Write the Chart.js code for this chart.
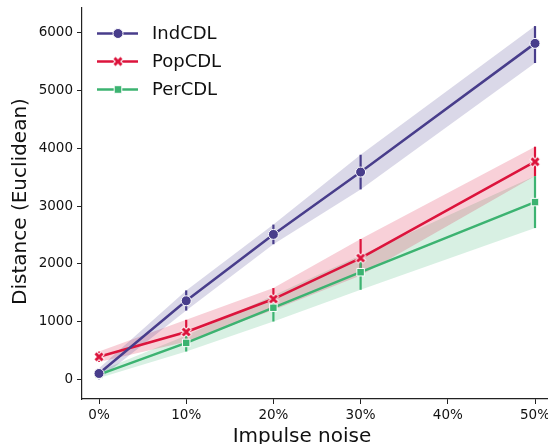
<!DOCTYPE html>
<html>
<head>
<meta charset="utf-8">
<script src="https://cdn.jsdelivr.net/npm/chart.js@4/dist/chart.umd.min.js"></script>
<style>
html,body{margin:0;padding:0;background:#fff;}
#wrap{width:548px;height:444px;position:relative;}
</style>
</head>
<body>
<div id="wrap"><canvas id="c" width="548" height="444"></canvas></div>
<script>
// ---- data ----
const noiseLevels = [0, 10, 20, 30, 50];
const xTicks = [0, 10, 20, 30, 40, 50];
const yTicks = [0, 1000, 2000, 3000, 4000, 5000, 6000];
const seriesNames = ['IndCDL', 'PopCDL', 'PerCDL'];

const indMean  = [100, 1360, 2510, 3590, 5820];
const indLow   = [0, 1190, 2340, 3290, 5480];
const indHigh  = [190, 1540, 2680, 3890, 6120];

const popMean  = [390, 820, 1390, 2100, 3770];
const popLow   = [300, 650, 1200, 1800, 3520];
const popHigh  = [480, 1030, 1580, 2430, 4030];

const perMean  = [80, 630, 1240, 1855, 3070];
const perLow   = [20, 480, 1000, 1550, 2620];
const perHigh  = [140, 760, 1450, 2150, 3520];

const colors = ['#483D8B', '#DC143C', '#3CB371'];
const bandColors = ['rgba(72,61,139,0.2)', 'rgba(220,20,60,0.2)', 'rgba(60,179,113,0.2)'];
const FONT = 'DejaVu Sans';

function pts(arr){ return noiseLevels.map((x,i)=>({x:x, y:arr[i]})); }

function makeX(color){
  const c = document.createElement('canvas');
  c.width = 14; c.height = 14;
  const g = c.getContext('2d');
  g.lineCap = 'butt';
  g.beginPath();
  g.moveTo(3,3); g.lineTo(11,11); g.moveTo(11,3); g.lineTo(3,11);
  g.strokeStyle = '#fff'; g.lineWidth = 5; g.stroke();
  g.beginPath();
  g.moveTo(3.5,3.5); g.lineTo(10.5,10.5); g.moveTo(10.5,3.5); g.lineTo(3.5,10.5);
  g.strokeStyle = color; g.lineWidth = 3; g.stroke();
  return c;
}
const xMarker = makeX(colors[1]);

const means = [indMean, popMean, perMean];
const lows = [indLow, popLow, perLow];
const highs = [indHigh, popHigh, perHigh];
const styles = ['circle', xMarker, 'rect'];
const radii = [5, 7, 5.3];

const datasets = [];
// bands
for (let s=0;s<3;s++){
  datasets.push({label:'hi'+s, data:pts(highs[s]), borderWidth:0, pointRadius:0, fill:false, order:20});
  datasets.push({label:'lo'+s, data:pts(lows[s]), borderWidth:0, pointRadius:0, fill:'-1', backgroundColor:bandColors[s], order:20});
}
// lines
for (let s=0;s<3;s++){
  datasets.push({
    label: seriesNames[s], data: pts(means[s]), borderColor: colors[s], backgroundColor: colors[s],
    borderWidth: 2.5, pointStyle: styles[s], pointRadius: radii[s],
    pointBorderColor: '#fff', pointBorderWidth: 1, pointBackgroundColor: colors[s],
    fill:false, order: s, tension:0
  });
}

const errorBars = {
  id:'errorBars',
  beforeDatasetsDraw(chart){
    const ctx = chart.ctx, xs = chart.scales.x, ys = chart.scales.y;
    ctx.save();
    ctx.lineWidth = 2.2;
    for (let s=0;s<3;s++){
      ctx.strokeStyle = colors[s];
      noiseLevels.forEach((x,i)=>{
        const px = xs.getPixelForValue(x);
        ctx.beginPath();
        ctx.moveTo(px, ys.getPixelForValue(lows[s][i]));
        ctx.lineTo(px, ys.getPixelForValue(highs[s][i]));
        ctx.stroke();
      });
    }
    ctx.restore();
  },
  afterDraw(chart){
    const ctx = chart.ctx;
    ctx.save();
    // legend
    const rows = [33.5, 61.5, 89.5];
    for (let s=0;s<3;s++){
      const y = rows[s];
      ctx.strokeStyle = colors[s]; ctx.lineWidth = 2.5;
      ctx.beginPath(); ctx.moveTo(97, y); ctx.lineTo(138, y); ctx.stroke();
      ctx.fillStyle = colors[s]; ctx.strokeStyle = '#fff'; ctx.lineWidth = 1;
      if (s===0){ ctx.beginPath(); ctx.arc(118,y,5,0,Math.PI*2); ctx.fill(); ctx.stroke(); }
      else if (s===1){ ctx.drawImage(xMarker, 118-7, y-7); }
      else { ctx.beginPath(); ctx.rect(114.2,y-3.8,7.6,7.6); ctx.fill(); ctx.stroke(); }
      ctx.fillStyle = '#111';
      ctx.font = '18px "' + FONT + '"';
      ctx.textBaseline = 'middle'; ctx.textAlign = 'left';
      ctx.fillText(seriesNames[s], 152, y+1);
    }
    // axis titles
    ctx.fillStyle = '#111';
    ctx.font = '20px "' + FONT + '"';
    ctx.textAlign = 'center'; ctx.textBaseline = 'alphabetic';
    ctx.fillText('Impulse noise', 302, 442);
    ctx.translate(26, 201.5);
    ctx.rotate(-Math.PI/2);
    ctx.fillText('Distance (Euclidean)', 0, 0);
    ctx.restore();
  }
};

new Chart(document.getElementById('c'), {
  type:'line',
  data:{datasets},
  options:{
    responsive:false, animation:false,
    layout:{autoPadding:false, padding:{top:8,left:0,right:0,bottom:0}},
    plugins:{legend:{display:false}, tooltip:{enabled:false}, filler:{drawTime:'beforeDatasetsDraw'}},
    scales:{
      x:{
        type:'linear', min:-1.95, max:51.49,
        afterBuildTicks(scale){ scale.ticks = xTicks.map(v=>({value:v})); },
        afterFit(scale){ scale.height = 45; scale.paddingLeft = 0; scale.paddingRight = 0; },
        grid:{display:true, drawOnChartArea:false, drawTicks:true, tickLength:5, color:'#222', tickColor:'#222', lineWidth:1},
        border:{display:true, color:'#222', width:1.2},
        ticks:{color:'#111', font:{family:FONT, size:13.5}, padding:3, maxRotation:0, autoSkip:false,
          callback:(v)=> v + '%'}
      },
      y:{
        type:'linear', min:-342, max:6433,
        afterBuildTicks(scale){ scale.ticks = yTicks.map(v=>({value:v})); },
        afterFit(scale){ scale.width = 82; scale.paddingTop = 0; scale.paddingBottom = 0; },
        grid:{display:true, drawOnChartArea:false, drawTicks:true, tickLength:5, color:'#222', tickColor:'#222', lineWidth:1},
        border:{display:true, color:'#222', width:1.2},
        ticks:{color:'#111', font:{family:FONT, size:13.5}, padding:4, autoSkip:false,
          callback:(v)=> String(v)}
      }
    }
  },
  plugins:[errorBars]
});
</script>
</body>
</html>
